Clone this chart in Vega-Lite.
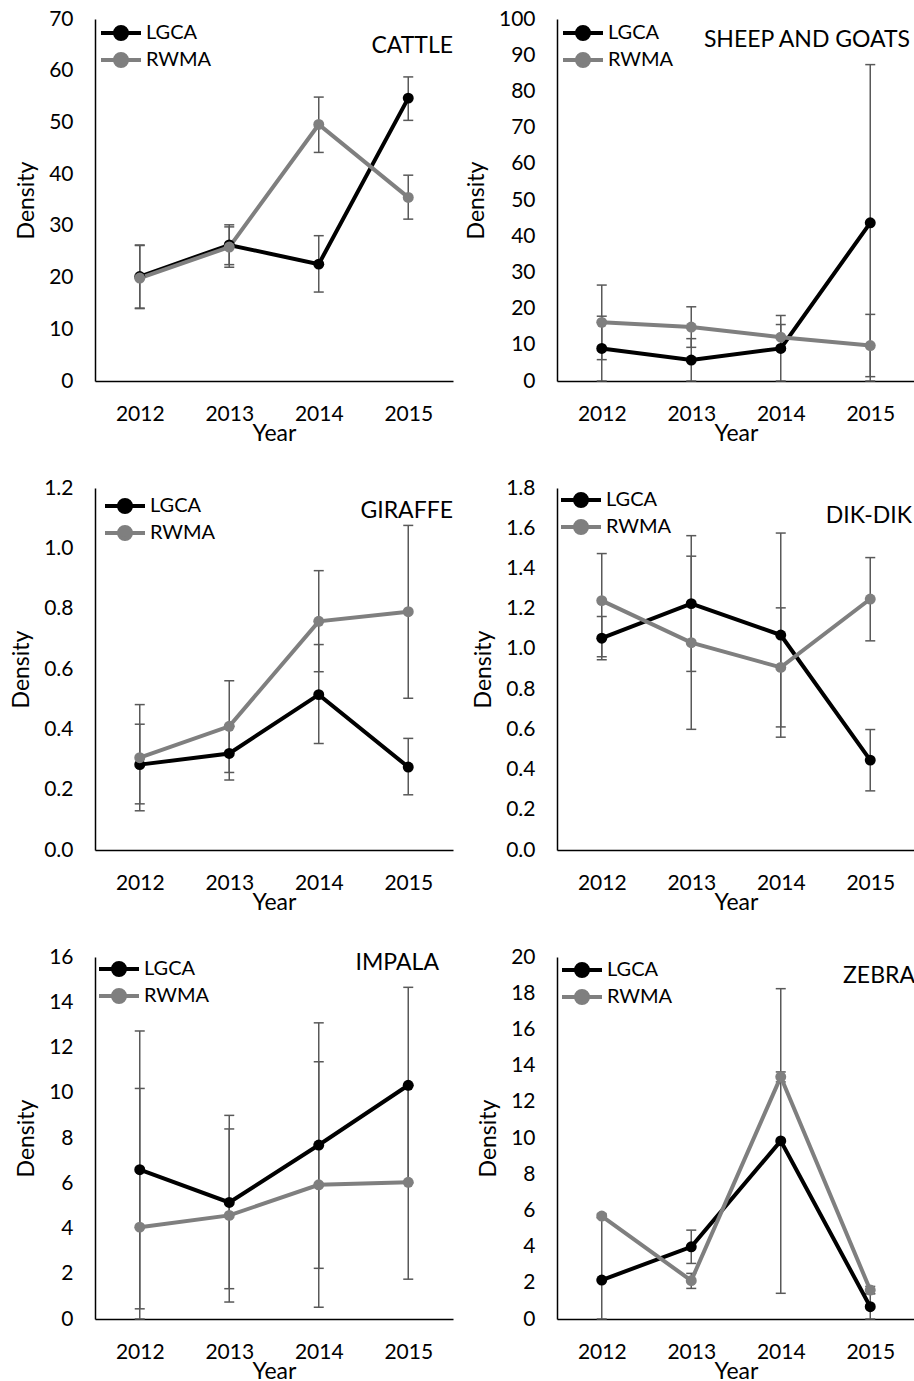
{
  "$schema": "https://vega.github.io/schema/vega-lite/v6.json",
  "background": "white",
  "padding": {"left": 10, "top": 8, "right": 0, "bottom": 0},
  "data": {"values": [
    {"animal": "CATTLE", "year": "2012", "site": "LGCA", "d": 20.2, "lo": 14.1, "hi": 26.3},
    {"animal": "CATTLE", "year": "2013", "site": "LGCA", "d": 26.3, "lo": 22.5, "hi": 30.2},
    {"animal": "CATTLE", "year": "2014", "site": "LGCA", "d": 22.6, "lo": 17.2, "hi": 28.1},
    {"animal": "CATTLE", "year": "2015", "site": "LGCA", "d": 54.7, "lo": 50.4, "hi": 58.8},
    {"animal": "CATTLE", "year": "2012", "site": "RWMA", "d": 19.9, "lo": 14.0, "hi": 26.2},
    {"animal": "CATTLE", "year": "2013", "site": "RWMA", "d": 25.9, "lo": 22.0, "hi": 29.8},
    {"animal": "CATTLE", "year": "2014", "site": "RWMA", "d": 49.6, "lo": 44.2, "hi": 54.9},
    {"animal": "CATTLE", "year": "2015", "site": "RWMA", "d": 35.5, "lo": 31.3, "hi": 39.8},
    {"animal": "SHEEP", "year": "2012", "site": "LGCA", "d": 9.0, "lo": 0, "hi": 17.9},
    {"animal": "SHEEP", "year": "2013", "site": "LGCA", "d": 5.8, "lo": 0, "hi": 11.7},
    {"animal": "SHEEP", "year": "2014", "site": "LGCA", "d": 9.0, "lo": 0, "hi": 18.1},
    {"animal": "SHEEP", "year": "2015", "site": "LGCA", "d": 43.7, "lo": 0, "hi": 87.4},
    {"animal": "SHEEP", "year": "2012", "site": "RWMA", "d": 16.2, "lo": 5.9, "hi": 26.5},
    {"animal": "SHEEP", "year": "2013", "site": "RWMA", "d": 14.9, "lo": 9.3, "hi": 20.5},
    {"animal": "SHEEP", "year": "2014", "site": "RWMA", "d": 12.1, "lo": 8.6, "hi": 15.6},
    {"animal": "SHEEP", "year": "2015", "site": "RWMA", "d": 9.8, "lo": 1.2, "hi": 18.4},
    {"animal": "GIRAFFE", "year": "2012", "site": "LGCA", "d": 0.283, "lo": 0.153, "hi": 0.417},
    {"animal": "GIRAFFE", "year": "2013", "site": "LGCA", "d": 0.32, "lo": 0.232, "hi": 0.41},
    {"animal": "GIRAFFE", "year": "2014", "site": "LGCA", "d": 0.515, "lo": 0.353, "hi": 0.681},
    {"animal": "GIRAFFE", "year": "2015", "site": "LGCA", "d": 0.275, "lo": 0.183, "hi": 0.37},
    {"animal": "GIRAFFE", "year": "2012", "site": "RWMA", "d": 0.306, "lo": 0.13, "hi": 0.482},
    {"animal": "GIRAFFE", "year": "2013", "site": "RWMA", "d": 0.41, "lo": 0.257, "hi": 0.561},
    {"animal": "GIRAFFE", "year": "2014", "site": "RWMA", "d": 0.758, "lo": 0.591, "hi": 0.926},
    {"animal": "GIRAFFE", "year": "2015", "site": "RWMA", "d": 0.79, "lo": 0.503, "hi": 1.076},
    {"animal": "DIKDIK", "year": "2012", "site": "LGCA", "d": 1.053, "lo": 0.946, "hi": 1.161},
    {"animal": "DIKDIK", "year": "2013", "site": "LGCA", "d": 1.225, "lo": 0.888, "hi": 1.563},
    {"animal": "DIKDIK", "year": "2014", "site": "LGCA", "d": 1.069, "lo": 0.561, "hi": 1.576},
    {"animal": "DIKDIK", "year": "2015", "site": "LGCA", "d": 0.447, "lo": 0.294, "hi": 0.599},
    {"animal": "DIKDIK", "year": "2012", "site": "RWMA", "d": 1.24, "lo": 0.961, "hi": 1.474},
    {"animal": "DIKDIK", "year": "2013", "site": "RWMA", "d": 1.031, "lo": 0.6, "hi": 1.461},
    {"animal": "DIKDIK", "year": "2014", "site": "RWMA", "d": 0.908, "lo": 0.612, "hi": 1.204},
    {"animal": "DIKDIK", "year": "2015", "site": "RWMA", "d": 1.248, "lo": 1.04, "hi": 1.454},
    {"animal": "IMPALA", "year": "2012", "site": "LGCA", "d": 6.6, "lo": 0.45, "hi": 12.73},
    {"animal": "IMPALA", "year": "2013", "site": "LGCA", "d": 5.15, "lo": 1.34, "hi": 9.0},
    {"animal": "IMPALA", "year": "2014", "site": "LGCA", "d": 7.69, "lo": 2.24, "hi": 13.09},
    {"animal": "IMPALA", "year": "2015", "site": "LGCA", "d": 10.33, "lo": 6.0, "hi": 14.66},
    {"animal": "IMPALA", "year": "2012", "site": "RWMA", "d": 4.06, "lo": 0, "hi": 10.19},
    {"animal": "IMPALA", "year": "2013", "site": "RWMA", "d": 4.58, "lo": 0.75, "hi": 8.4},
    {"animal": "IMPALA", "year": "2014", "site": "RWMA", "d": 5.93, "lo": 0.52, "hi": 11.37},
    {"animal": "IMPALA", "year": "2015", "site": "RWMA", "d": 6.04, "lo": 1.76, "hi": 10.32},
    {"animal": "ZEBRA", "year": "2012", "site": "LGCA", "d": 2.15, "lo": 0, "hi": 5.6},
    {"animal": "ZEBRA", "year": "2013", "site": "LGCA", "d": 3.99, "lo": 3.07, "hi": 4.91},
    {"animal": "ZEBRA", "year": "2014", "site": "LGCA", "d": 9.84, "lo": 1.42, "hi": 18.25},
    {"animal": "ZEBRA", "year": "2015", "site": "LGCA", "d": 0.68, "lo": 0, "hi": 1.4},
    {"animal": "ZEBRA", "year": "2012", "site": "RWMA", "d": 5.69, "lo": 5.6, "hi": 5.8},
    {"animal": "ZEBRA", "year": "2013", "site": "RWMA", "d": 2.12, "lo": 1.69, "hi": 2.52},
    {"animal": "ZEBRA", "year": "2014", "site": "RWMA", "d": 13.38, "lo": 13.1, "hi": 13.65},
    {"animal": "ZEBRA", "year": "2015", "site": "RWMA", "d": 1.6, "lo": 1.4, "hi": 1.8}
  ]},
  "columns": 2,
  "spacing": {"row": 32, "column": 12},
  "resolve": {"scale": {"y": "independent", "color": "independent"}},
  "concat": [
    {
      "width": 358, "height": 362,
      "title": {"text": "CATTLE", "dy": 54},
      "transform": [{"filter": "datum.animal === 'CATTLE'"}],
      "encoding": {"x": {"field": "year", "type": "ordinal", "title": "Year", "scale": {"type": "point", "padding": 0.5}}},
      "layer": [
        {"mark": {"type": "rule", "color": "#595959", "strokeWidth": 1.5}, "encoding": {"y": {"field": "lo", "type": "quantitative", "title": "Density", "scale": {"domain": [0, 70], "nice": false}, "axis": {"values": [0, 10, 20, 30, 40, 50, 60, 70], "format": "d", "tickCount": 30, "labelOverlap": false}}, "y2": {"field": "hi"}}},
        {"mark": {"type": "tick", "color": "#595959", "thickness": 1.5, "size": 10, "opacity": 1}, "encoding": {"y": {"field": "lo", "type": "quantitative", "title": "Density", "scale": {"domain": [0, 70], "nice": false}}}},
        {"mark": {"type": "tick", "color": "#595959", "thickness": 1.5, "size": 10, "opacity": 1}, "encoding": {"y": {"field": "hi", "type": "quantitative", "title": "Density", "scale": {"domain": [0, 70], "nice": false}}}},
        {"mark": {"type": "line", "strokeWidth": 4}, "encoding": {"y": {"field": "d", "type": "quantitative", "title": "Density", "scale": {"domain": [0, 70], "nice": false}}, "color": {"field": "site", "type": "nominal", "scale": {"domain": ["LGCA", "RWMA"], "range": ["#000000", "#7f7f7f"]}, "legend": {"title": null, "orient": "top-left", "offset": 2, "encode": {"symbols": {"update": {"fill": {"signal": "datum.value === 'LGCA' ? '#000000' : '#7f7f7f'"}, "stroke": {"signal": "datum.value === 'LGCA' ? '#000000' : '#7f7f7f'"}, "strokeWidth": {"value": 4}, "opacity": {"value": 1}}}}}}}},
        {"mark": {"type": "point", "filled": true, "size": 120, "opacity": 1}, "encoding": {"y": {"field": "d", "type": "quantitative", "title": "Density", "scale": {"domain": [0, 70], "nice": false}}, "color": {"field": "site", "type": "nominal", "scale": {"domain": ["LGCA", "RWMA"], "range": ["#000000", "#7f7f7f"]}, "legend": null}}}
      ]
    },
    {
      "width": 358, "height": 362,
      "title": {"text": "SHEEP AND GOATS", "dy": 48, "dx": -5},
      "transform": [{"filter": "datum.animal === 'SHEEP'"}],
      "encoding": {"x": {"field": "year", "type": "ordinal", "title": "Year", "scale": {"type": "point", "padding": 0.5}}},
      "layer": [
        {"mark": {"type": "rule", "color": "#595959", "strokeWidth": 1.5}, "encoding": {"y": {"field": "lo", "type": "quantitative", "title": "Density", "scale": {"domain": [0, 100], "nice": false}, "axis": {"values": [0, 10, 20, 30, 40, 50, 60, 70, 80, 90, 100], "format": "d", "tickCount": 30, "labelOverlap": false}}, "y2": {"field": "hi"}}},
        {"mark": {"type": "tick", "color": "#595959", "thickness": 1.5, "size": 10, "opacity": 1}, "encoding": {"y": {"field": "lo", "type": "quantitative", "title": "Density", "scale": {"domain": [0, 100], "nice": false}}}},
        {"mark": {"type": "tick", "color": "#595959", "thickness": 1.5, "size": 10, "opacity": 1}, "encoding": {"y": {"field": "hi", "type": "quantitative", "title": "Density", "scale": {"domain": [0, 100], "nice": false}}}},
        {"mark": {"type": "line", "strokeWidth": 4}, "encoding": {"y": {"field": "d", "type": "quantitative", "title": "Density", "scale": {"domain": [0, 100], "nice": false}}, "color": {"field": "site", "type": "nominal", "scale": {"domain": ["LGCA", "RWMA"], "range": ["#000000", "#7f7f7f"]}, "legend": {"title": null, "orient": "top-left", "offset": 2, "encode": {"symbols": {"update": {"fill": {"signal": "datum.value === 'LGCA' ? '#000000' : '#7f7f7f'"}, "stroke": {"signal": "datum.value === 'LGCA' ? '#000000' : '#7f7f7f'"}, "strokeWidth": {"value": 4}, "opacity": {"value": 1}}}}}}}},
        {"mark": {"type": "point", "filled": true, "size": 120, "opacity": 1}, "encoding": {"y": {"field": "d", "type": "quantitative", "title": "Density", "scale": {"domain": [0, 100], "nice": false}}, "color": {"field": "site", "type": "nominal", "scale": {"domain": ["LGCA", "RWMA"], "range": ["#000000", "#7f7f7f"]}, "legend": null}}}
      ]
    },
    {
      "width": 358, "height": 362,
      "title": {"text": "GIRAFFE", "dy": 50},
      "transform": [{"filter": "datum.animal === 'GIRAFFE'"}],
      "encoding": {"x": {"field": "year", "type": "ordinal", "title": "Year", "scale": {"type": "point", "padding": 0.5}}},
      "layer": [
        {"mark": {"type": "rule", "color": "#595959", "strokeWidth": 1.5}, "encoding": {"y": {"field": "lo", "type": "quantitative", "title": "Density", "scale": {"domain": [0, 1.2], "nice": false}, "axis": {"values": [0, 0.2, 0.4, 0.6, 0.8, 1.0, 1.2], "format": ".1f", "tickCount": 30, "labelOverlap": false}}, "y2": {"field": "hi"}}},
        {"mark": {"type": "tick", "color": "#595959", "thickness": 1.5, "size": 10, "opacity": 1}, "encoding": {"y": {"field": "lo", "type": "quantitative", "title": "Density", "scale": {"domain": [0, 1.2], "nice": false}}}},
        {"mark": {"type": "tick", "color": "#595959", "thickness": 1.5, "size": 10, "opacity": 1}, "encoding": {"y": {"field": "hi", "type": "quantitative", "title": "Density", "scale": {"domain": [0, 1.2], "nice": false}}}},
        {"mark": {"type": "line", "strokeWidth": 4}, "encoding": {"y": {"field": "d", "type": "quantitative", "title": "Density", "scale": {"domain": [0, 1.2], "nice": false}}, "color": {"field": "site", "type": "nominal", "scale": {"domain": ["LGCA", "RWMA"], "range": ["#000000", "#7f7f7f"]}, "legend": {"title": null, "orient": "top-left", "offset": 6, "encode": {"symbols": {"update": {"fill": {"signal": "datum.value === 'LGCA' ? '#000000' : '#7f7f7f'"}, "stroke": {"signal": "datum.value === 'LGCA' ? '#000000' : '#7f7f7f'"}, "strokeWidth": {"value": 4}, "opacity": {"value": 1}}}}}}}},
        {"mark": {"type": "point", "filled": true, "size": 120, "opacity": 1}, "encoding": {"y": {"field": "d", "type": "quantitative", "title": "Density", "scale": {"domain": [0, 1.2], "nice": false}}, "color": {"field": "site", "type": "nominal", "scale": {"domain": ["LGCA", "RWMA"], "range": ["#000000", "#7f7f7f"]}, "legend": null}}}
      ]
    },
    {
      "width": 358, "height": 362,
      "title": {"text": "DIK-DIK", "dy": 55, "dx": -3},
      "transform": [{"filter": "datum.animal === 'DIKDIK'"}],
      "encoding": {"x": {"field": "year", "type": "ordinal", "title": "Year", "scale": {"type": "point", "padding": 0.5}}},
      "layer": [
        {"mark": {"type": "rule", "color": "#595959", "strokeWidth": 1.5}, "encoding": {"y": {"field": "lo", "type": "quantitative", "title": "Density", "scale": {"domain": [0, 1.8], "nice": false}, "axis": {"values": [0, 0.2, 0.4, 0.6, 0.8, 1.0, 1.2, 1.4, 1.6, 1.8], "format": ".1f", "tickCount": 30, "labelOverlap": false}}, "y2": {"field": "hi"}}},
        {"mark": {"type": "tick", "color": "#595959", "thickness": 1.5, "size": 10, "opacity": 1}, "encoding": {"y": {"field": "lo", "type": "quantitative", "title": "Density", "scale": {"domain": [0, 1.8], "nice": false}}}},
        {"mark": {"type": "tick", "color": "#595959", "thickness": 1.5, "size": 10, "opacity": 1}, "encoding": {"y": {"field": "hi", "type": "quantitative", "title": "Density", "scale": {"domain": [0, 1.8], "nice": false}}}},
        {"mark": {"type": "line", "strokeWidth": 4}, "encoding": {"y": {"field": "d", "type": "quantitative", "title": "Density", "scale": {"domain": [0, 1.8], "nice": false}}, "color": {"field": "site", "type": "nominal", "scale": {"domain": ["LGCA", "RWMA"], "range": ["#000000", "#7f7f7f"]}, "legend": {"title": null, "orient": "top-left", "offset": 0, "encode": {"symbols": {"update": {"fill": {"signal": "datum.value === 'LGCA' ? '#000000' : '#7f7f7f'"}, "stroke": {"signal": "datum.value === 'LGCA' ? '#000000' : '#7f7f7f'"}, "strokeWidth": {"value": 4}, "opacity": {"value": 1}}}}}}}},
        {"mark": {"type": "point", "filled": true, "size": 120, "opacity": 1}, "encoding": {"y": {"field": "d", "type": "quantitative", "title": "Density", "scale": {"domain": [0, 1.8], "nice": false}}, "color": {"field": "site", "type": "nominal", "scale": {"domain": ["LGCA", "RWMA"], "range": ["#000000", "#7f7f7f"]}, "legend": null}}}
      ]
    },
    {
      "width": 358, "height": 362,
      "title": {"text": "IMPALA", "dy": 33, "dx": -14},
      "transform": [{"filter": "datum.animal === 'IMPALA'"}],
      "encoding": {"x": {"field": "year", "type": "ordinal", "title": "Year", "scale": {"type": "point", "padding": 0.5}}},
      "layer": [
        {"mark": {"type": "rule", "color": "#595959", "strokeWidth": 1.5}, "encoding": {"y": {"field": "lo", "type": "quantitative", "title": "Density", "scale": {"domain": [0, 16], "nice": false}, "axis": {"values": [0, 2, 4, 6, 8, 10, 12, 14, 16], "format": "d", "tickCount": 30, "labelOverlap": false}}, "y2": {"field": "hi"}}},
        {"mark": {"type": "tick", "color": "#595959", "thickness": 1.5, "size": 10, "opacity": 1}, "encoding": {"y": {"field": "lo", "type": "quantitative", "title": "Density", "scale": {"domain": [0, 16], "nice": false}}}},
        {"mark": {"type": "tick", "color": "#595959", "thickness": 1.5, "size": 10, "opacity": 1}, "encoding": {"y": {"field": "hi", "type": "quantitative", "title": "Density", "scale": {"domain": [0, 16], "nice": false}}}},
        {"mark": {"type": "line", "strokeWidth": 4}, "encoding": {"y": {"field": "d", "type": "quantitative", "title": "Density", "scale": {"domain": [0, 16], "nice": false}}, "color": {"field": "site", "type": "nominal", "scale": {"domain": ["LGCA", "RWMA"], "range": ["#000000", "#7f7f7f"]}, "legend": {"title": null, "orient": "top-left", "offset": 0, "encode": {"symbols": {"update": {"fill": {"signal": "datum.value === 'LGCA' ? '#000000' : '#7f7f7f'"}, "stroke": {"signal": "datum.value === 'LGCA' ? '#000000' : '#7f7f7f'"}, "strokeWidth": {"value": 4}, "opacity": {"value": 1}}}}}}}},
        {"mark": {"type": "point", "filled": true, "size": 120, "opacity": 1}, "encoding": {"y": {"field": "d", "type": "quantitative", "title": "Density", "scale": {"domain": [0, 16], "nice": false}}, "color": {"field": "site", "type": "nominal", "scale": {"domain": ["LGCA", "RWMA"], "range": ["#000000", "#7f7f7f"]}, "legend": null}}}
      ]
    },
    {
      "width": 358, "height": 362,
      "title": {"text": "ZEBRA", "dy": 46},
      "transform": [{"filter": "datum.animal === 'ZEBRA'"}],
      "encoding": {"x": {"field": "year", "type": "ordinal", "title": "Year", "scale": {"type": "point", "padding": 0.5}}},
      "layer": [
        {"mark": {"type": "rule", "color": "#595959", "strokeWidth": 1.5}, "encoding": {"y": {"field": "lo", "type": "quantitative", "title": "Density", "scale": {"domain": [0, 20], "nice": false}, "axis": {"values": [0, 2, 4, 6, 8, 10, 12, 14, 16, 18, 20], "format": "d", "tickCount": 30, "labelOverlap": false}}, "y2": {"field": "hi"}}},
        {"mark": {"type": "tick", "color": "#595959", "thickness": 1.5, "size": 10, "opacity": 1}, "encoding": {"y": {"field": "lo", "type": "quantitative", "title": "Density", "scale": {"domain": [0, 20], "nice": false}}}},
        {"mark": {"type": "tick", "color": "#595959", "thickness": 1.5, "size": 10, "opacity": 1}, "encoding": {"y": {"field": "hi", "type": "quantitative", "title": "Density", "scale": {"domain": [0, 20], "nice": false}}}},
        {"mark": {"type": "line", "strokeWidth": 4}, "encoding": {"y": {"field": "d", "type": "quantitative", "title": "Density", "scale": {"domain": [0, 20], "nice": false}}, "color": {"field": "site", "type": "nominal", "scale": {"domain": ["LGCA", "RWMA"], "range": ["#000000", "#7f7f7f"]}, "legend": {"title": null, "orient": "top-left", "offset": 1, "encode": {"symbols": {"update": {"fill": {"signal": "datum.value === 'LGCA' ? '#000000' : '#7f7f7f'"}, "stroke": {"signal": "datum.value === 'LGCA' ? '#000000' : '#7f7f7f'"}, "strokeWidth": {"value": 4}, "opacity": {"value": 1}}}}}}}},
        {"mark": {"type": "point", "filled": true, "size": 120, "opacity": 1}, "encoding": {"y": {"field": "d", "type": "quantitative", "title": "Density", "scale": {"domain": [0, 20], "nice": false}}, "color": {"field": "site", "type": "nominal", "scale": {"domain": ["LGCA", "RWMA"], "range": ["#000000", "#7f7f7f"]}, "legend": null}}}
      ]
    }
  ],
  "config": {
    "font": "Lato",
    "view": {"stroke": null},
    "axis": {"grid": false, "ticks": false, "domainColor": "#000000", "domainWidth": 1.5, "labelFont": "Lato", "labelFontSize": 21, "labelColor": "#000000", "labelOverlap": false, "titleFont": "Lato", "titleFontSize": 23, "titleFontWeight": "normal", "titleColor": "#000000"},
    "axisX": {"labelAngle": 0, "labelPadding": 22, "titlePadding": -2},
    "axisY": {"labelPadding": 22, "titlePadding": 10},
    "legend": {"labelFont": "Lato", "labelFontSize": 20, "labelColor": "#000000", "symbolType": "M-0.8,0H3.2M1.8,0A0.6,0.6,0,1,1,0.6,0A0.6,0.6,0,1,1,1.8,0", "symbolSize": 400, "symbolStrokeWidth": 4, "labelOffset": 25, "rowPadding": -1, "padding": 0},
    "title": {"font": "Lato", "fontSize": 23, "fontWeight": "normal", "anchor": "end", "color": "#000000", "frame": "group", "offset": 0, "baseline": "alphabetic"}
  }
}
